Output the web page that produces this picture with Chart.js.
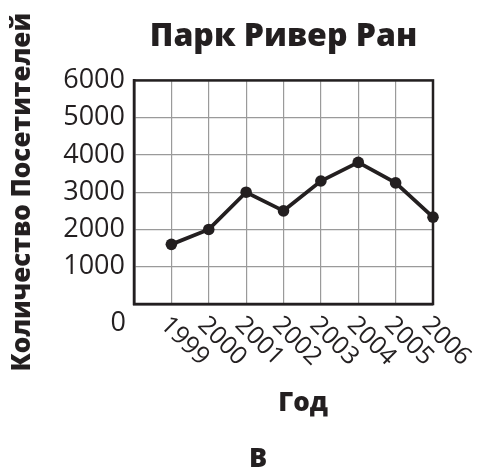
<!DOCTYPE html>
<html>
<head>
<meta charset="utf-8">
<script src="https://cdn.jsdelivr.net/npm/chart.js@4/dist/chart.umd.min.js"></script>
<style>
  html, body { margin: 0; padding: 0; background: #ffffff; }
  #wrap { width: 478px; height: 472px; position: relative; }
</style>
</head>
<body>
<div id="wrap"><canvas id="parkChart" width="478" height="472"></canvas></div>
<script>
// Data
const years = [1999, 2000, 2001, 2002, 2003, 2004, 2005, 2006];
const visitors = [1600, 2000, 3000, 2500, 3300, 3800, 3250, 2330];
const yTicks = [0, 1000, 2000, 3000, 4000, 5000, 6000];

const INK = '#231f20';
const GRID = '#9a9a9a';
const FONT = "'Open Sans', 'DejaVu Sans', sans-serif";

// Frame, rotated year labels, the lowered "0", axis caption and letter
const extras = {
  id: 'extras',
  beforeDatasetsDraw(chart) {
    const { ctx, chartArea: a } = chart;
    ctx.save();
    ctx.strokeStyle = INK;
    ctx.lineWidth = 2.5;
    ctx.strokeRect(a.left, a.top, a.right - a.left, a.bottom - a.top);
    ctx.restore();
  },
  afterDraw(chart) {
    const { ctx, chartArea: a } = chart;
    const xs = chart.scales.x;
    ctx.save();
    ctx.fillStyle = INK;

    // year labels, turned 45 degrees clockwise
    ctx.font = '25px ' + FONT;
    ctx.textAlign = 'left';
    ctx.textBaseline = 'middle';
    years.forEach(y => {
      const px = xs.getPixelForValue(y);
      ctx.save();
      ctx.translate(px - 7, a.bottom + 17);
      ctx.rotate(Math.PI / 4);
      ctx.fillText(String(y), 0, 0);
      ctx.restore();
    });

    // zero sits below the axis in the original
    ctx.font = '27px ' + FONT;
    ctx.textAlign = 'right';
    ctx.fillText('0', a.left - 8, a.bottom + 19);

    ctx.font = '800 26px ' + FONT;
    ctx.textAlign = 'center';
    ctx.textBaseline = 'alphabetic';
    ctx.fillText('Год', 303, 411);

    ctx.font = '800 27px ' + FONT;
    ctx.fillText('В', 258, 467);
    ctx.restore();
  }
};

new Chart(document.getElementById('parkChart'), {
  type: 'line',
  data: {
    datasets: [{
      data: years.map((y, i) => ({ x: y, y: visitors[i] })),
      borderColor: INK,
      backgroundColor: INK,
      borderWidth: 3.8,
      pointRadius: 5.8,
      pointBackgroundColor: INK,
      pointBorderWidth: 0,
      tension: 0,
      clip: false
    }]
  },
  options: {
    responsive: false,
    animation: false,
    layout: {
      padding: { left: 7, right: 45, top: 0, bottom: 0 }
    },
    plugins: {
      legend: { display: false },
      tooltip: { enabled: false },
      title: {
        display: true,
        fullSize: false,
        text: 'Парк Ривер Ран',
        color: INK,
        font: { family: FONT, size: 32, weight: '800', lineHeight: 1.2 },
        padding: { top: 18, bottom: 24 }
      }
    },
    scales: {
      x: {
        type: 'linear',
        min: 1998,
        max: 2006,
        ticks: { stepSize: 1, display: false },
        grid: { color: GRID, lineWidth: 1.2, drawTicks: false },
        border: { display: true, color: INK, width: 2.5 },
        afterFit(scale) { scale.height = 168; }
      },
      y: {
        min: 0,
        max: 6000,
        afterBuildTicks(scale) { scale.ticks = yTicks.map(v => ({ value: v })); },
        ticks: {
          color: INK,
          padding: 9,
          font: { family: FONT, size: 27 },
          callback: v => (v === 0 ? '' : String(v))
        },
        grid: { color: GRID, lineWidth: 1.2, drawTicks: false },
        border: { display: true, color: INK, width: 2.5 },
        title: {
          display: true,
          text: 'Количество Посетителей',
          color: INK,
          font: { family: FONT, size: 26, weight: '800' },
          padding: { top: 0, bottom: 0 }
        },
        afterFit(scale) { scale.width = 127; }
      }
    }
  },
  plugins: [extras]
});
</script>
</body>
</html>
